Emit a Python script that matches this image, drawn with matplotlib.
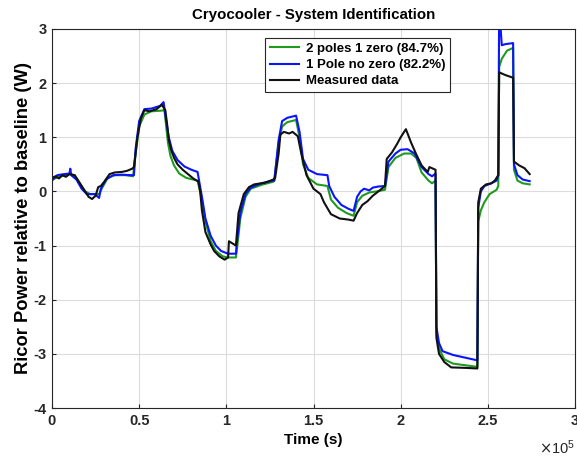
import numpy as np
import matplotlib
matplotlib.use("Agg")
import matplotlib.pyplot as plt

plt.rcParams['font.family'] = ['Liberation Sans', 'DejaVu Sans']

# Time in units of 1e5 s
t_meas = [0.00, 0.02, 0.04, 0.06, 0.08, 0.10, 0.13, 0.16, 0.19, 0.21, 0.23, 0.25, 0.265, 0.28, 0.30,
          0.33, 0.36, 0.40, 0.43, 0.46, 0.47, 0.49, 0.51, 0.53, 0.56, 0.60, 0.63, 0.65, 0.66, 0.67,
          0.685, 0.70, 0.72, 0.75, 0.78, 0.81, 0.84, 0.85, 0.86, 0.88, 0.91, 0.93, 0.96, 0.99, 1.01,
          1.015, 1.04, 1.055, 1.07, 1.10, 1.13, 1.16, 1.22, 1.27, 1.28, 1.30, 1.31, 1.33, 1.36, 1.38,
          1.41, 1.43, 1.46, 1.50, 1.54, 1.56, 1.60, 1.65, 1.70, 1.73, 1.75, 1.78, 1.81, 1.84, 1.88,
          1.91, 1.92, 1.95, 1.98, 2.00, 2.03, 2.06, 2.09, 2.12, 2.155, 2.165, 2.20, 2.205, 2.22, 2.25,
          2.29, 2.38, 2.44, 2.445, 2.46, 2.49, 2.52, 2.54, 2.56, 2.565, 2.60, 2.645, 2.65, 2.68, 2.71,
          2.74]
y_meas = [0.25, 0.28, 0.24, 0.30, 0.27, 0.32, 0.30, 0.15, 0.00, -0.10, -0.14, -0.08, 0.08, 0.10, 0.18,
          0.32, 0.35, 0.36, 0.38, 0.42, 0.45, 1.00, 1.35, 1.50, 1.48, 1.52, 1.60, 1.50, 1.25, 0.95,
          0.75, 0.62, 0.50, 0.40, 0.32, 0.24, 0.18, 0.00, -0.35, -0.75, -0.98, -1.10, -1.20, -1.26, -1.22,
          -0.92, -0.97, -1.00, -0.40, -0.05, 0.08, 0.13, 0.16, 0.22, 0.25, 0.70, 1.05, 1.10, 1.07, 1.10,
          1.02, 0.70, 0.30, 0.05, -0.05, -0.20, -0.42, -0.50, -0.52, -0.54, -0.40, -0.25, -0.18, -0.08, 0.02,
          0.10, 0.60, 0.72, 0.88, 1.00, 1.15, 0.90, 0.68, 0.48, 0.36, 0.45, 0.40, -2.70, -3.00, -3.15,
          -3.25, -3.26, -3.27, -0.20, 0.05, 0.13, 0.15, 0.20, 0.30, 2.20, 2.15, 2.10, 0.55, 0.48, 0.43,
          0.32]

t_1p = [0.00, 0.03, 0.07, 0.10, 0.105, 0.11, 0.14, 0.17, 0.20, 0.245, 0.27, 0.28, 0.31, 0.35, 0.40,
        0.455, 0.47, 0.48, 0.50, 0.53, 0.57, 0.62, 0.64, 0.655, 0.67, 0.69, 0.72, 0.76, 0.80, 0.835,
        0.86, 0.88, 0.91, 0.94, 0.97, 1.01, 1.055, 1.06, 1.08, 1.11, 1.14, 1.20, 1.27, 1.275, 1.30,
        1.32, 1.35, 1.40, 1.42, 1.44, 1.47, 1.52, 1.58, 1.59, 1.62, 1.66, 1.70, 1.73, 1.75, 1.77,
        1.79, 1.82, 1.84, 1.87, 1.91, 1.93, 1.97, 2.00, 2.04, 2.08, 2.12, 2.16, 2.18, 2.20, 2.205,
        2.22, 2.24, 2.30, 2.44, 2.445, 2.46, 2.48, 2.52, 2.55, 2.56, 2.565, 2.58, 2.60, 2.645, 2.65,
        2.67, 2.70, 2.74]
y_1p = [0.20, 0.30, 0.32, 0.33, 0.42, 0.30, 0.22, 0.05, -0.05, -0.05, -0.12, 0.05, 0.22, 0.30, 0.31,
        0.30, 0.30, 0.80, 1.30, 1.52, 1.53, 1.58, 1.65, 1.30, 1.00, 0.75, 0.58, 0.46, 0.40, 0.36,
        -0.10, -0.50, -0.82, -1.00, -1.10, -1.15, -1.15, -0.95, -0.40, -0.05, 0.07, 0.15, 0.20, 0.20, 0.95,
        1.30, 1.36, 1.40, 1.10, 0.60, 0.40, 0.32, 0.30, 0.10, -0.10, -0.25, -0.32, -0.36, -0.10, 0.00,
        0.05, 0.02, 0.07, 0.09, 0.10, 0.55, 0.70, 0.77, 0.78, 0.70, 0.45, 0.32, 0.28, 0.33, -2.50,
        -2.80, -2.95, -3.02, -3.12, -0.30, 0.00, 0.10, 0.15, 0.20, 0.30, 3.40, 2.70, 2.72, 2.74, 0.50,
        0.30, 0.22, 0.19]

t_2p = [0.00, 0.05, 0.10, 0.13, 0.16, 0.19, 0.22, 0.25, 0.27, 0.29, 0.32, 0.36, 0.42, 0.465, 0.48,
        0.50, 0.53, 0.57, 0.62, 0.645, 0.655, 0.665, 0.68, 0.70, 0.73, 0.77, 0.835, 0.86, 0.88, 0.91,
        0.94, 0.98, 1.01, 1.055, 1.065, 1.08, 1.11, 1.14, 1.20, 1.27, 1.275, 1.30, 1.32, 1.35, 1.40,
        1.42, 1.44, 1.47, 1.52, 1.58, 1.60, 1.64, 1.69, 1.73, 1.75, 1.78, 1.82, 1.86, 1.91, 1.93,
        1.97, 2.02, 2.06, 2.09, 2.12, 2.16, 2.18, 2.20, 2.205, 2.22, 2.25, 2.30, 2.44, 2.445, 2.46,
        2.48, 2.51, 2.55, 2.56, 2.565, 2.58, 2.61, 2.645, 2.65, 2.67, 2.70, 2.74]
y_2p = [0.22, 0.28, 0.32, 0.30, 0.15, 0.00, -0.05, -0.05, -0.05, 0.08, 0.25, 0.30, 0.30, 0.28, 0.70,
        1.20, 1.42, 1.48, 1.49, 1.50, 1.20, 0.90, 0.65, 0.48, 0.33, 0.25, 0.20, -0.15, -0.55, -0.92,
        -1.10, -1.20, -1.22, -1.22, -0.95, -0.50, -0.10, 0.05, 0.12, 0.18, 0.20, 0.90, 1.20, 1.28, 1.32,
        1.00, 0.50, 0.25, 0.13, 0.10, -0.15, -0.30, -0.40, -0.45, -0.20, -0.08, -0.02, 0.00, 0.03, 0.45,
        0.62, 0.70, 0.70, 0.62, 0.35, 0.20, 0.15, 0.20, -2.60, -2.90, -3.10, -3.18, -3.24, -0.55, -0.35,
        -0.20, -0.05, 0.03, 0.10, 2.30, 2.45, 2.60, 2.65, 0.40, 0.20, 0.15, 0.13]

labels = ['2 poles 1 zero (84.7%)', '1 Pole no zero (82.2%)', 'Measured data']
xticks = [0, 0.5, 1, 1.5, 2, 2.5, 3]
xticklabels = ['0', '0.5', '1', '1.5', '2', '2.5', '3']
yticks = [-4, -3, -2, -1, 0, 1, 2, 3]

scale = 1e5

fig = plt.figure(figsize=(5.77, 4.57), dpi=100)
ax = fig.add_axes([52/577, 1 - 408/457, (575-52)/577, (408-29)/457])

ax.plot(np.array(t_2p)*scale, y_2p, color='#1f9a1f', lw=1.5, label=labels[0])
ax.plot(np.array(t_1p)*scale, y_1p, color='#0a14ff', lw=1.5, label=labels[1])
ax.plot(np.array(t_meas)*scale, y_meas, color='#111111', lw=1.5, label=labels[2])

ax.set_xlim(0, 3*scale)
ax.set_ylim(-4, 3)
ax.set_xticks(np.array(xticks)*scale)
ax.set_xticklabels(xticklabels)
ax.set_yticks(yticks)
ax.set_yticklabels([str(v) for v in yticks])
ax.grid(True, color='#dcdcdc', lw=0.8)
ax.set_axisbelow(True)
ax.tick_params(direction='in', length=3, width=0.8, colors='#262626', labelsize=10.5, pad=4)
for lbl in ax.get_xticklabels() + ax.get_yticklabels():
    lbl.set_fontweight('bold')
    lbl.set_color('#262626')
for s in ax.spines.values():
    s.set_color('#262626')
    s.set_linewidth(0.8)

ax.set_title('Cryocooler - System Identification', fontsize=10.8, fontweight='bold', pad=7)
ax.set_xlabel('Time (s)', fontsize=11, fontweight='bold', labelpad=4)
ax.set_ylabel('Ricor Power relative to baseline (W)', fontsize=13.2, fontweight='bold', labelpad=1)
ax.text(1.0, -0.08, r'$\times\mathdefault{10^{5}}$', transform=ax.transAxes,
        ha='right', va='top', fontsize=10.5, color='#262626')

leg = ax.legend(loc='upper right', bbox_to_anchor=(0.773, 0.993), fancybox=False,
                edgecolor='#262626', framealpha=1, handlelength=2.2, borderpad=0.35,
                labelspacing=0.3, handletextpad=0.5, prop={'weight': 'bold', 'size': 9.5})
leg.get_frame().set_linewidth(0.8)

fig.savefig('out.png', dpi=100)
